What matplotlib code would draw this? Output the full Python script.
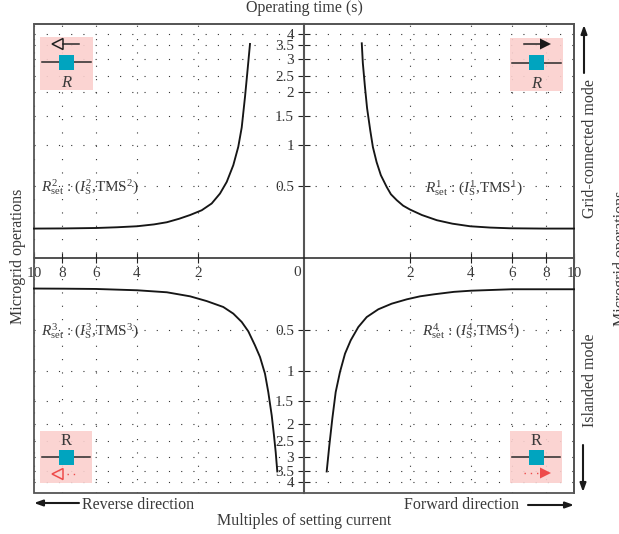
import numpy as np
import matplotlib
matplotlib.use('Agg')
import matplotlib.pyplot as plt
from matplotlib.patches import Rectangle, Polygon
from matplotlib.ticker import FuncFormatter

plt.rcParams['font.family'] = ['Liberation Serif', 'DejaVu Serif']
plt.rcParams['mathtext.fontset'] = 'custom'
plt.rcParams['mathtext.rm'] = 'Liberation Serif'
plt.rcParams['mathtext.it'] = 'Liberation Serif:italic'

# multiples of setting current / operating time, one pair per quadrant
x1 = [1.09, 1.11, 1.15, 1.19, 1.25, 1.30, 1.37, 1.45, 1.56, 1.64, 1.75, 1.87, 2.0, 2.39, 2.88, 3.39, 3.97, 4.93, 5.9, 7.88, 10]
t1 = [3.58, 2.88, 2.16, 1.66, 1.25, 0.976, 0.793, 0.634, 0.495, 0.444, 0.403, 0.365, 0.338, 0.30, 0.264, 0.24, 0.222, 0.213, 0.208, 0.206, 0.206]
x2 = [1.019, 1.07, 1.113, 1.175, 1.24, 1.334, 1.458, 1.585, 1.742, 1.93, 2.26, 2.62, 3.02, 3.44, 4.0, 4.98, 6.0, 7.88, 10]
t2 = [3.55, 2.58, 1.9, 1.3, 0.98, 0.756, 0.552, 0.449, 0.38, 0.333, 0.30, 0.274, 0.25, 0.235, 0.222, 0.215, 0.21, 0.207, 0.206]
x3 = [0.504, 0.534, 0.566, 0.609, 0.674, 0.736, 0.83, 0.925, 1.051, 1.175, 1.334, 1.523, 1.836, 2.26, 3.02, 4.0, 6.0, 7.88, 10]
t3 = [3.5, 2.84, 2.34, 1.81, 1.35, 1.04, 0.825, 0.683, 0.512, 0.442, 0.384, 0.338, 0.297, 0.264, 0.236, 0.222, 0.213, 0.211, 0.21]
x4 = [0.428, 0.477, 0.534, 0.598, 0.679, 0.774, 0.881, 1.025, 1.183, 1.402, 1.655, 1.938, 2.33, 2.79, 3.44, 4.0, 6.0, 7.88, 10]
t4 = [3.5, 2.65, 1.88, 1.35, 1.01, 0.784, 0.622, 0.477, 0.408, 0.354, 0.315, 0.285, 0.264, 0.25, 0.233, 0.225, 0.215, 0.215, 0.215]

x_ticks = [2, 4, 6, 8, 10]
y_ticks = [0.5, 1, 1.5, 2, 2.5, 3, 3.5, 4]

# the axes are neither linear nor log, these are the spacings of the original
x_knots = [0, 2, 4, 6, 8, 10]
x_dist = [0, 106, 167, 208, 242, 270]
y_knots = [0, 0.5, 1, 1.5, 2, 2.5, 3, 3.5, 4, 4.45]
y_dist = [0, 72, 113, 142.5, 166, 182.5, 199, 213, 224, 234.5]


def x_fwd(v):
    return np.sign(v) * np.interp(np.abs(v), x_knots, x_dist)

def x_inv(v):
    return np.sign(v) * np.interp(np.abs(v), x_dist, x_knots)

def y_fwd(v):
    return np.sign(v) * np.interp(np.abs(v), y_knots, y_dist)

def y_inv(v):
    return np.sign(v) * np.interp(np.abs(v), y_dist, y_knots)


dark = '#3a3a3a'
fig = plt.figure(figsize=(6.19, 5.34), dpi=100)
ax = fig.add_axes([34 / 619, 41 / 534, 540 / 619, 469 / 534])
ax.set_xscale('function', functions=(x_fwd, x_inv))
ax.set_yscale('function', functions=(y_fwd, y_inv))
ax.set_xlim(-10, 10)
ax.set_ylim(-4.45, 4.43)

for xs, ts, sx, sy in [(x1, t1, 1, 1), (x2, t2, -1, 1), (x3, t3, -1, -1), (x4, t4, 1, -1)]:
    ax.plot(sx * np.array(xs), sy * np.array(ts), color='#161616', lw=1.35, zorder=4,
            clip_on=False, solid_joinstyle='round')

ax.set_xticks([-v for v in x_ticks] + x_ticks)
ax.set_yticks([-v for v in y_ticks] + y_ticks)
ax.minorticks_off()
ax.xaxis.set_major_formatter(FuncFormatter(lambda v, p: '%g' % abs(v)))
ax.yaxis.set_major_formatter(FuncFormatter(lambda v, p: '%g' % abs(v)))
ax.tick_params(axis='x', direction='inout', length=7.5, width=0.8, color='#222222',
               labelsize=11, labelcolor=dark, pad=2.5)
ax.tick_params(axis='y', direction='inout', length=8.5, width=0.8, color='#222222',
               labelsize=11, labelcolor=dark, pad=3)
ax.xaxis.grid(True, color='#333333', lw=0.8, ls=(0, (1, 11)))
ax.yaxis.grid(True, color='#333333', lw=0.8, ls=(0, (1, 10)))
ax.set_axisbelow(True)

ax.spines['left'].set_position(('data', 0))
ax.spines['bottom'].set_position(('data', 0))
ax.spines['left'].set_color('#555555')
ax.spines['left'].set_linewidth(1.5)
ax.spines['bottom'].set_color('#222222')
ax.spines['bottom'].set_linewidth(1.1)
ax.spines['top'].set_color('#444444')
ax.spines['top'].set_linewidth(1.1)
ax.spines['right'].set_color('#555555')
ax.spines['right'].set_linewidth(1.4)
ax.add_patch(Rectangle((0, 0), 1, 1, transform=ax.transAxes, fill=False,
                       ec='#555555', lw=1.3, clip_on=False, zorder=3))

# overlay in pixels for the icons and outer labels
ov = fig.add_axes([0, 0, 1, 1])
ov.set_xlim(0, 619)
ov.set_ylim(534, 0)
ov.axis('off')
ov.patch.set_alpha(0)


def txt(x, y, s, size=11.5, rot=0, ha='center', style='normal'):
    ov.text(x, y, s, fontsize=size, rotation=rot, ha=ha, va='center', color=dark,
            style=style, clip_on=False)


def arrow(x0, y0, x1_, y1_, color='#1a1a1a'):
    ov.annotate('', xy=(x1_, y1_), xytext=(x0, y0),
                arrowprops=dict(arrowstyle='-|>,head_length=0.5,head_width=0.18', color=color, lw=1.5,
                                shrinkA=0, shrinkB=0))


def icon(x, y, w, h, line_y, sq_x, label, label_y, style):
    ov.add_patch(Rectangle((x, y), w, h, fc='#fbd0ce', ec='none', alpha=0.9, zorder=2))
    ov.plot([x + 2, x + w - 2], [line_y, line_y], color='#2a2a2a', lw=1.1, zorder=3)
    ov.add_patch(Rectangle((sq_x, line_y - 7.5), 15, 15, fc='#00a4bf', ec='none', zorder=4))
    ov.text(x + w / 2, label_y, label, fontsize=12, style=style, ha='center', va='center', color=dark, zorder=4)


icon(40, 37, 53, 53, 62, 59, 'R', 83, 'italic')
icon(510, 38, 53, 53, 62.5, 529, 'R', 84, 'italic')
icon(40, 431, 52, 52, 457, 59, 'R', 441, 'normal')
icon(510, 431, 52, 52, 457, 529, 'R', 441, 'normal')

# direction marks inside the icons
ov.plot([63, 79], [44, 44], color='#2a2a2a', lw=1.1, zorder=5)
ov.add_patch(Polygon([[52, 44], [63, 38.5], [63, 49.5]], fc='none', ec='#222222', lw=1.1, zorder=5))
ov.plot([524, 540], [44, 44], color='#222222', lw=1.1, zorder=5)
ov.add_patch(Polygon([[551, 44], [540, 38.5], [540, 49.5]], fc='#1a1a1a', ec='none', zorder=5))
ov.plot([67, 78], [474, 474], color='#ee4b4b', lw=1.0, ls=(0, (1, 3.5)), zorder=5)
ov.add_patch(Polygon([[52, 474], [63, 468.5], [63, 479.5]], fc='none', ec='#ee4b4b', lw=1.1, zorder=5))
ov.plot([524, 540], [473, 473], color='#ee4b4b', lw=1.0, ls=(0, (1, 3.5)), zorder=5)
ov.add_patch(Polygon([[551, 473], [540, 467.5], [540, 478.5]], fc='#ee4b4b', ec='none', zorder=5))

# quadrant labels
set_label = r'$\mathit{R}^{%d}_{\mathrm{set}}$ : ($\mathit{I}^{%d}_{\mathrm{S}}$,TMS$^{%d}$)'
txt(473.5, 188, set_label % (1, 1, 1), size=11)
txt(90, 187, set_label % (2, 2, 2), size=11)
txt(90, 331, set_label % (3, 3, 3), size=11)
txt(470.5, 331, set_label % (4, 4, 4), size=11)

# outer labels
txt(297, 273, '0', size=11)
txt(304, 8, 'Operating time (s)')
txt(304, 521, 'Multiples of setting current')
txt(138.5, 505, 'Reverse direction')
txt(461, 505, 'Forward direction')
txt(18, 256, 'Microgrid operations', rot=90)
txt(621, 258, 'Microgrid operations', rot=90)
txt(590, 149, 'Grid-connected mode', rot=90)
txt(590, 380, 'Islanded mode', rot=90)

arrow(584, 73, 584, 25)
arrow(583, 445, 583, 492)
arrow(79, 503, 34, 503)
arrow(528, 505, 574, 505)

fig.savefig('out.png', dpi=100)
